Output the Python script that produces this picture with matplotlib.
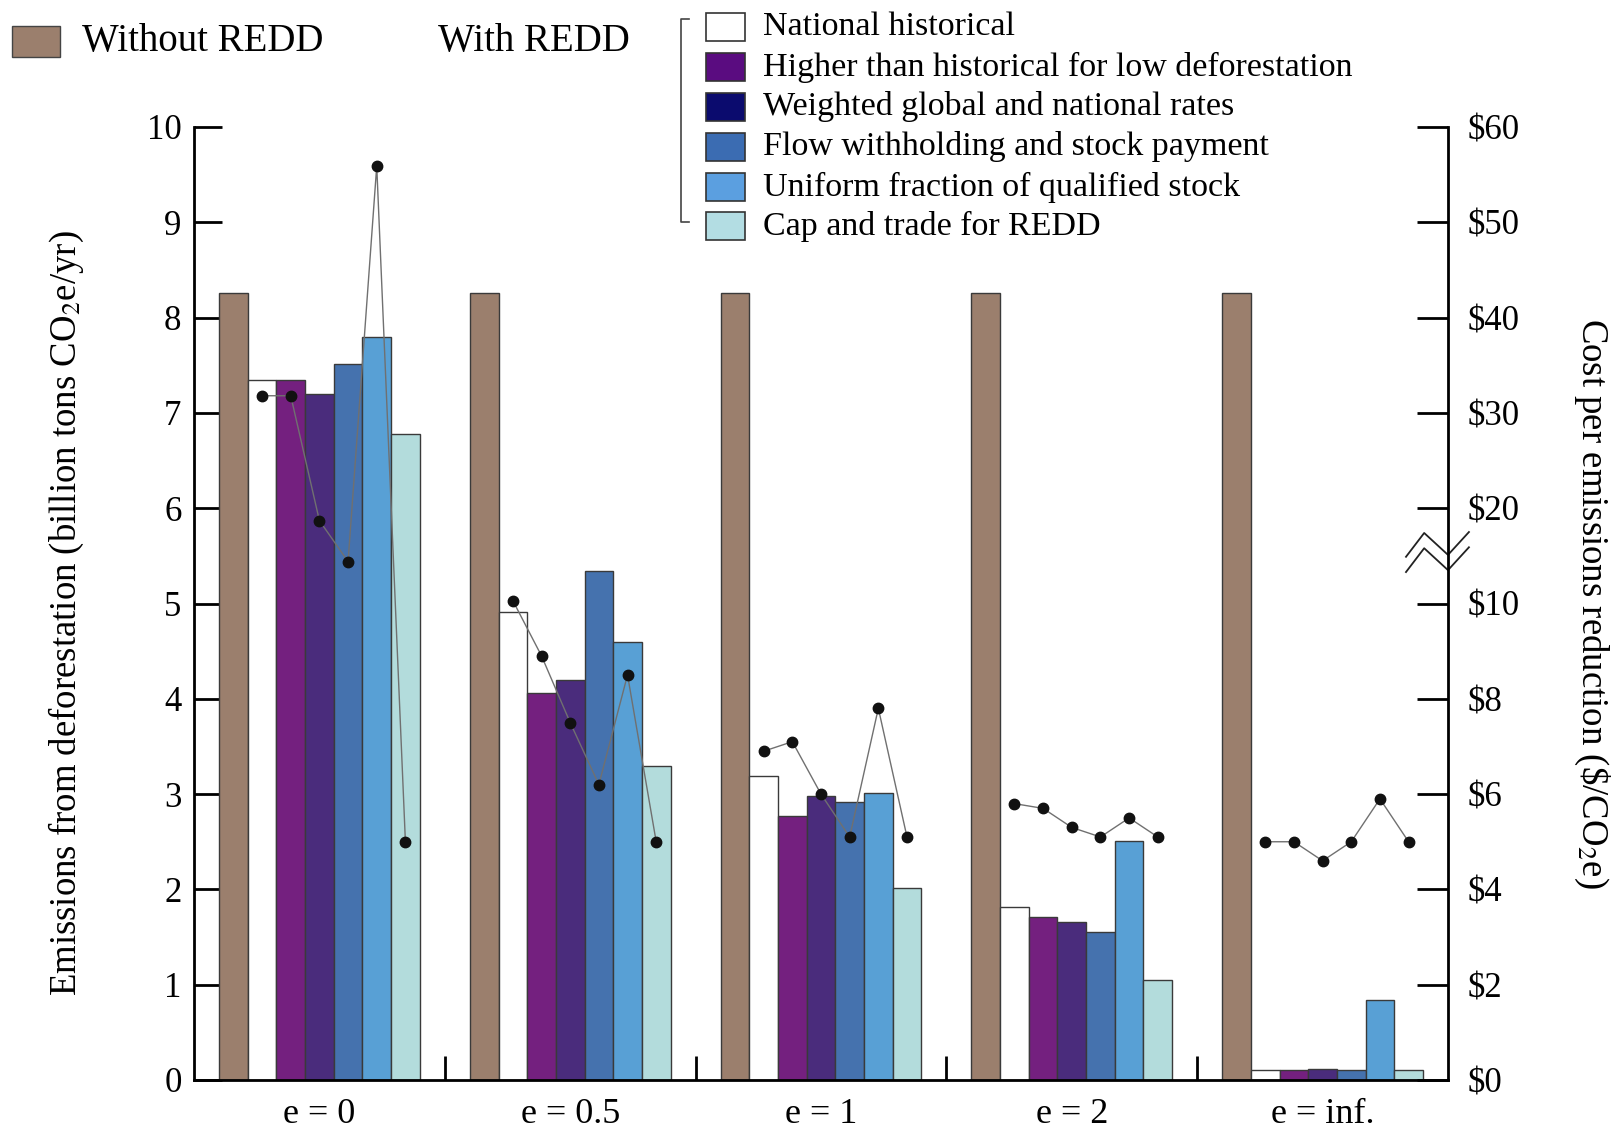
import numpy as np
import matplotlib
matplotlib.use("Agg")
import matplotlib.pyplot as plt
from matplotlib.patches import Rectangle
from matplotlib.lines import Line2D
from matplotlib.ticker import NullLocator
import matplotlib.transforms as mtransforms

plt.rcParams['font.family'] = ['Liberation Serif', 'DejaVu Serif']
plt.rcParams['mathtext.fontset'] = 'stix'

# ---------------- data ----------------
groups = ['e = 0', 'e = 0.5', 'e = 1', 'e = 2', 'e = inf.']
without_redd = [8.26, 8.26, 8.26, 8.26, 8.26]

scheme_names = ['National historical',
                'Higher than historical for low deforestation',
                'Weighted global and national rates',
                'Flow withholding and stock payment',
                'Uniform fraction of qualified stock',
                'Cap and trade for REDD']

national_hist = [7.35, 4.91, 3.19, 1.82, 0.10]
higher_hist = [7.34, 4.06, 2.77, 1.71, 0.10]
weighted = [7.20, 4.20, 2.98, 1.66, 0.12]
flow_stock = [7.51, 5.34, 2.92, 1.55, 0.10]
uniform_frac = [7.80, 4.60, 3.01, 2.51, 0.84]
cap_trade = [6.78, 3.30, 2.01, 1.05, 0.10]

# cost per emissions reduction ($/CO2e)
cost_national = [31.8, 10.3, 6.9, 5.8, 5.0]
cost_higher = [31.8, 8.9, 7.1, 5.7, 5.0]
cost_weighted = [18.7, 7.5, 6.0, 5.3, 4.6]
cost_flow = [14.4, 6.2, 5.1, 5.1, 5.0]
cost_uniform = [55.9, 8.5, 7.8, 5.5, 5.9]
cost_cap = [5.0, 5.0, 5.1, 5.1, 5.0]

left_ticks = [0, 1, 2, 3, 4, 5, 6, 7, 8, 9, 10]
right_ticks = [0, 2, 4, 6, 8, 10, 20, 30, 40, 50, 60]
right_ticklabels = ['$0', '$2', '$4', '$6', '$8', '$10', '$20', '$30', '$40', '$50', '$60']

# ---------------- style ----------------
brown = '#9b7f6d'
bar_colors = ['#ffffff', '#74207f', '#4a2c7c', '#4572ae', '#58a0d5', '#b3dcdc']
legend_colors = ['#ffffff', '#5a0c80', '#0b0b6e', '#3b6cb2', '#5b9fe0', '#b3dde3']

W, H = 1617, 1130
fig = plt.figure(figsize=(W / 100, H / 100), dpi=100)
ax = fig.add_axes([194 / W, 1 - 1080 / H, (1448 - 194) / W, (1080 - 127) / H])

schemes = [national_hist, higher_hist, weighted, flow_stock, uniform_frac, cap_trade]
costs = [cost_national, cost_higher, cost_weighted, cost_flow, cost_uniform, cost_cap]

n = len(groups)
centers = np.arange(n) + 0.5
bw = 0.1143
offsets = (np.arange(7) - 3) * bw

ax.bar(centers + offsets[0], without_redd, width=bw, color=brown,
       edgecolor='#3a3a3a', linewidth=1.0, zorder=2)
for k, vals in enumerate(schemes):
    ax.bar(centers + offsets[k + 1], vals, width=bw, color=bar_colors[k],
           edgecolor='#3a3a3a', linewidth=1.0, zorder=2)

ax.set_xlim(0, 5)
ax.set_ylim(0, 10)
ax.set_yticks(left_ticks)
ax.set_yticklabels([str(t) for t in left_ticks])
ax.set_xticks(centers)
ax.set_xticklabels(groups)
ax.set_xticks([1, 2, 3, 4], minor=True)
ax.tick_params(axis='x', which='major', length=0, labelsize=26, pad=13)
ax.tick_params(axis='x', which='minor', direction='in', length=17, width=2)
ax.tick_params(axis='y', direction='in', length=20, width=2, labelsize=25, pad=9)
for s in ['top', 'right']:
    ax.spines[s].set_visible(False)
for s in ['left', 'bottom']:
    ax.spines[s].set_linewidth(2)
ax.set_ylabel('Emissions from deforestation (billion tons CO$_2$e/yr)', fontsize=26.5)
ax.yaxis.set_label_coords(-0.086, 0.49)

# secondary axis with broken scale
def fwd(v):
    v = np.asarray(v, dtype=float)
    return np.where(v <= 10, v / 2.0, 5 + (v - 10) / 10.0)

def inv(p):
    p = np.asarray(p, dtype=float)
    return np.where(p <= 5, 2.0 * p, 10 + (p - 5) * 10.0)

ax2 = ax.twinx()
ax2.set_yscale('function', functions=(fwd, inv))
ax2.set_ylim(0, 60)
ax2.set_yticks(right_ticks)
ax2.set_yticklabels(right_ticklabels)
ax2.yaxis.set_minor_locator(NullLocator())
ax2.tick_params(axis='y', direction='in', length=22, width=2, labelsize=25, pad=14)
for s in ['top', 'left', 'bottom']:
    ax2.spines[s].set_visible(False)
ax2.spines['right'].set_linewidth(2)
ax2.set_ylabel('Cost per emissions reduction (\\$/CO$_2$e)', fontsize=26.5, rotation=270)
ax2.yaxis.set_label_coords(1.13, 0.5)

for g in range(n):
    xs = centers[g] + offsets[1:]
    ys = [costs[k][g] for k in range(6)]
    ax2.plot(xs, ys, color='#707070', linewidth=1.0, zorder=3)
    ax2.plot(xs, ys, linestyle='none', marker='o', markersize=7.5,
             color='#111111', zorder=4)

# axis break symbol on the right axis
tr = mtransforms.blended_transform_factory(ax.transAxes, ax.transData)
bx = [1 - 0.0335, 1 - 0.019, 1.0, 1 + 0.0167]
for by in ([5.49, 5.74, 5.51, 5.75], [5.33, 5.58, 5.35, 5.59]):
    ax.add_line(Line2D(bx, by, transform=tr, color='#222222', linewidth=1.3,
                       clip_on=False))

# ---------------- legends ----------------
def fx(px):
    return px / W

def fy(py):
    return 1 - py / H

fig.patches.append(Rectangle((fx(12), fy(57)), fx(48), 31 / H, transform=fig.transFigure,
                             facecolor=brown, edgecolor='#444444', linewidth=1))
fig.text(fx(82), fy(42), 'Without REDD', fontsize=28, va='center', ha='left')
fig.text(fx(438), fy(42), 'With REDD', fontsize=28, va='center', ha='left')

# bracket
fig.add_artist(Line2D([fx(689), fx(681), fx(681), fx(689)],
                      [fy(19), fy(19), fy(222), fy(222)],
                      transform=fig.transFigure, color='#444444', linewidth=1.2))

row_y = [27, 67, 107, 147, 187, 226]
for name, col, ry in zip(scheme_names, legend_colors, row_y):
    fig.patches.append(Rectangle((fx(706), fy(ry + 14)), 39 / W, 28 / H,
                                 transform=fig.transFigure, facecolor=col,
                                 edgecolor='#333333', linewidth=1.2))
    fig.text(fx(763), fy(ry), name, fontsize=24.5, va='center', ha='left')

fig.savefig('out.png', dpi=100)
